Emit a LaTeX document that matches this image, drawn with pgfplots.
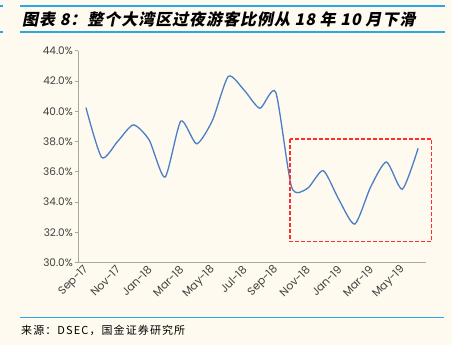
\documentclass[border=0pt]{standalone}
\usepackage{fontspec}
\usepackage{pgfplots}
\pgfplotsset{compat=1.18}
\setmainfont{Poppins}
\newfontfamily\cjk[LetterSpace=10]{Noto Sans CJK SC}
\newfontfamily\cjkt[FakeSlant=0.2,LetterSpace=6,BoldFeatures={FakeSlant=0.2,LetterSpace=6}]{Noto Sans CJK SC}
\definecolor{bg}{HTML}{FEFAF0}
\definecolor{band}{HTML}{2AA8E2}
\definecolor{ser}{HTML}{4A7EC5}
\definecolor{txt}{HTML}{404040}
\definecolor{ax}{HTML}{A6A6A6}
\definecolor{box}{HTML}{FF2E2E}
\begin{document}
\begin{tikzpicture}[x=1pt,y=1pt]
\useasboundingbox (0,0) rectangle (452,345);
\fill[bg] (0,0) rectangle (452,345);
\draw[band,line width=1.5pt] (20,339) -- (445,339);
\draw[band,line width=1.5pt] (20,313) -- (445,313);
\draw[band,line width=1.5pt] (0,339) -- (3,339);
\draw[band,line width=1.5pt] (0,313) -- (3,313);
\draw[band,line width=1.5pt] (20,27.3) -- (444,27.3);
\node[anchor=west,inner sep=0pt] at (22,326) {\cjkt\bfseries\fontsize{16}{19}\selectfont 图表 8：整个大湾区过夜游客比例从 18 年 10 月下滑};
\node[anchor=west,inner sep=0pt,text=black] at (21,14.5) {\cjk\fontsize{11}{13}\selectfont 来源：DSEC，国金证券研究所};
\begin{axis}[
  at={(78pt,82.3pt)}, anchor=south west,
  scale only axis, width=348pt, height=212pt,
  xmin=-0.5, xmax=21.5, ymin=30, ymax=44,
  axis x line*=bottom, axis y line*=left,
  axis line style={ax, line width=0.8pt},
  tick style={ax, line width=0.8pt},
  tick align=outside, major tick length=3pt,
  ytick={30,32,34,36,38,40,42,44},
  yticklabels={30.0\%,32.0\%,34.0\%,36.0\%,38.0\%,40.0\%,42.0\%,44.0\%},
  xtick={0,2,4,6,8,10,12,14,16,18,20},
  xticklabels={Sep-17,Nov-17,Jan-18,Mar-18,May-18,Jul-18,Sep-18,Nov-18,Jan-19,Mar-19,May-19},
  x tick style={draw=none},
  extra x ticks={-0.5,1.5,3.5,5.5,7.5,9.5,11.5,13.5,15.5,17.5,19.5,21.5},
  extra x tick labels={},
  extra x tick style={tick style={ax, line width=0.8pt}},
  xticklabel style={rotate=45, anchor=east, font=\fontsize{11}{13}\selectfont, text=txt, inner sep=1pt, yshift=-2pt},
  yticklabel style={font=\fontsize{10.5}{12}\selectfont, text=txt, inner sep=2pt},
  /pgf/number format/assume math mode=true,
  clip=false,
]
\addplot[ser, line width=1.3pt, smooth, tension=0.4] coordinates {
(0,40.25) (1,36.95) (2,38.0) (3,39.1) (4,38.1) (5,35.65) (6,39.35) (7,37.85)
(8,39.4) (9,42.3) (10,41.4) (11,40.2) (12,41.25) (13,35.0) (14,34.9) (15,36.08)
(16,34.15) (17,32.55) (18,35.0) (19,36.65) (20,34.85) (21,37.55)
};
\draw[box, line width=1.3pt, dash pattern=on 4pt off 2pt] (axis cs:12.9,38.17) rectangle (axis cs:21.85,31.38);
\end{axis}
\end{tikzpicture}
\end{document}
